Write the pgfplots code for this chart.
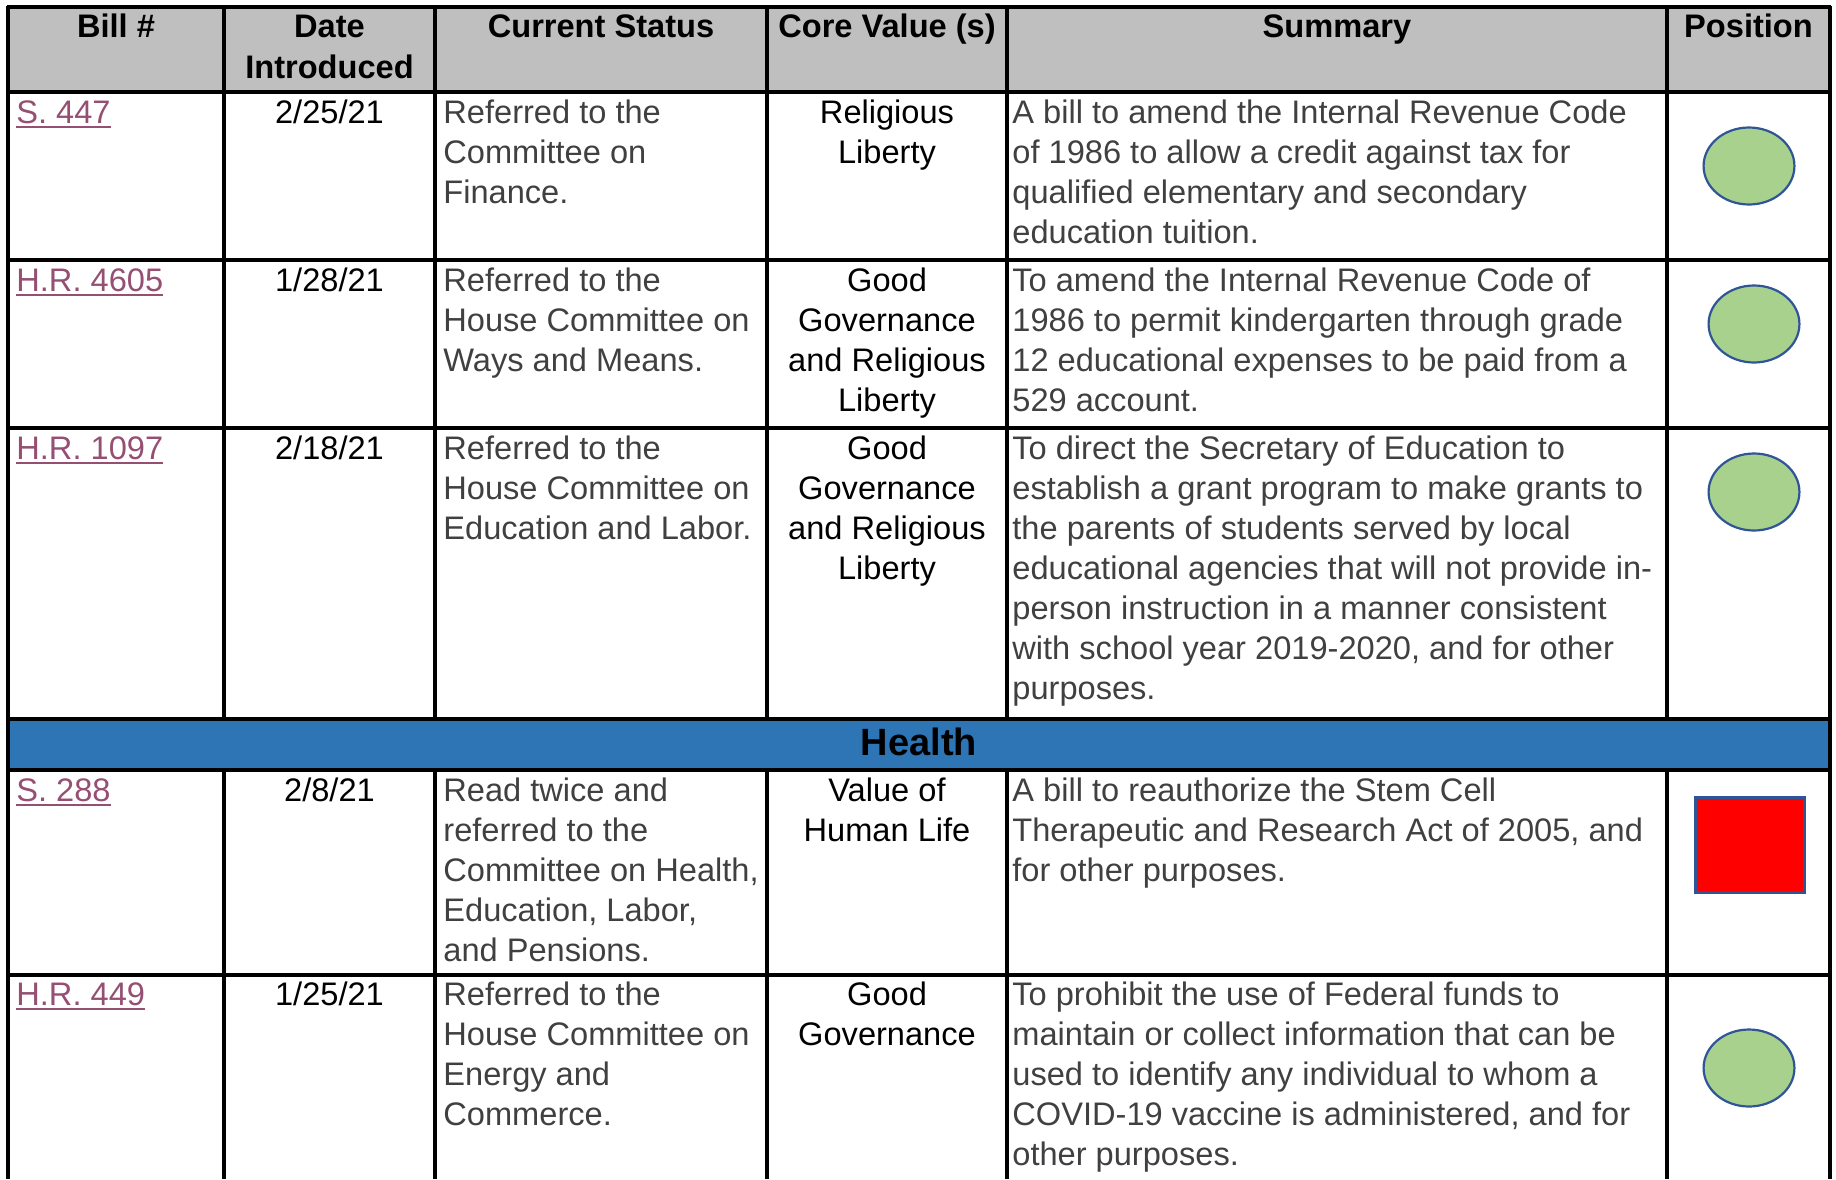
\documentclass[border=0pt]{standalone}
\usepackage{fontspec}
\setmainfont{Liberation Sans}
\usepackage{pgfplots}
\pgfplotsset{compat=1.18}
\definecolor{hdrgray}{HTML}{BFBFBF}
\definecolor{bandblue}{HTML}{2E75B6}
\definecolor{linkc}{HTML}{954F72}
\definecolor{bodyg}{HTML}{404040}
\definecolor{okgreen}{HTML}{A9D18E}
\definecolor{edgeblue}{HTML}{2F5597}
\newcommand\ul[1]{\setbox0\hbox{#1}\rlap{\rule[-2.6pt]{\wd0}{1.2pt}}\box0}
\newcommand\TL[3]{\node[anchor=base west,inner sep=0pt,text=bodyg] at (axis cs:#1,#2) {#3};}
\newcommand\TC[3]{\node[anchor=base,inner sep=0pt,text=black] at (axis cs:#1,#2) {#3};}
\newcommand\TB[3]{\node[anchor=base,inner sep=0pt,text=black,font=\fontsize{16.3}{20}\selectfont\bfseries] at (axis cs:#1,#2) {#3};}
\newcommand\LK[3]{\node[anchor=base west,inner sep=0pt,text=linkc] at (axis cs:#1,#2) {\ul{#3}};}
\begin{document}
\begin{tikzpicture}[font=\fontsize{16.3}{20}\selectfont]
\begin{axis}[
  name=tbl,
  scale only axis, width=918pt, height=589.5pt,
  xmin=0, xmax=1836, ymin=0, ymax=1179, y dir=reverse,
  hide axis, clip=true]
% backgrounds
\addplot[fill=hdrgray, draw=none] coordinates {(8,7) (1830,7) (1830,92) (8,92)} -- cycle;
\addplot[fill=bandblue, draw=none] coordinates {(8,719) (1830,719) (1830,770) (8,770)} -- cycle;
% horizontal lines
\addplot[black, line width=1.7pt] coordinates {(7,7) (1831,7)};
\addplot[black, line width=1.7pt] coordinates {(7,92) (1831,92)};
\addplot[black, line width=1.7pt] coordinates {(7,260) (1831,260)};
\addplot[black, line width=1.7pt] coordinates {(7,428) (1831,428)};
\addplot[black, line width=1.7pt] coordinates {(7,719) (1831,719)};
\addplot[black, line width=1.7pt] coordinates {(7,770) (1831,770)};
\addplot[black, line width=1.7pt] coordinates {(7,975) (1831,975)};
% outer verticals
\addplot[black, line width=1.7pt] coordinates {(8,6) (8,1179)};
\addplot[black, line width=1.7pt] coordinates {(1830,6) (1830,1179)};
% inner verticals
\addplot[black, line width=1.7pt] coordinates {(224,7) (224,719)};
\addplot[black, line width=1.7pt] coordinates {(435,7) (435,719)};
\addplot[black, line width=1.7pt] coordinates {(767,7) (767,719)};
\addplot[black, line width=1.7pt] coordinates {(1007,7) (1007,719)};
\addplot[black, line width=1.7pt] coordinates {(1667,7) (1667,719)};
\addplot[black, line width=1.7pt] coordinates {(224,770) (224,1179)};
\addplot[black, line width=1.7pt] coordinates {(435,770) (435,1179)};
\addplot[black, line width=1.7pt] coordinates {(767,770) (767,1179)};
\addplot[black, line width=1.7pt] coordinates {(1007,770) (1007,1179)};
\addplot[black, line width=1.7pt] coordinates {(1667,770) (1667,1179)};
% position marks
\addplot[only marks, mark=*, mark size=19.25pt, mark options={xscale=1.18, fill=okgreen, draw=edgeblue, line width=1.1pt}]
  coordinates {(1749,166) (1754,324) (1754,492) (1749,1068)};
\addplot[only marks, mark=square*, mark size=23.75pt, mark options={xscale=1.147, fill=red, draw=edgeblue, line width=1.1pt}]
  coordinates {(1750,845)};
% header
\TB{116}{37}{Bill \#}
\TB{329.5}{37}{Date}
\TB{329.5}{78}{Introduced}
\TB{601}{37}{Current Status}
\TB{887}{37}{Core Value (s)}
\TB{1337}{37}{Summary}
\TB{1748.5}{37}{Position}
% row 1
\LK{16}{123}{S. 447}
\TC{329.5}{123}{2/25/21}
\TL{443}{123}{Referred to the}
\TL{443}{163}{Committee on}
\TL{443}{203}{Finance.}
\TC{887}{123}{Religious}
\TC{887}{163}{Liberty}
\TL{1012}{123}{A bill to amend the Internal Revenue Code}
\TL{1012}{163}{of 1986 to allow a credit against tax for}
\TL{1012}{203}{qualified elementary and secondary}
\TL{1012}{243}{education tuition.}
% row 2
\LK{16}{291}{H.R. 4605}
\TC{329.5}{291}{1/28/21}
\TL{443}{291}{Referred to the}
\TL{443}{331}{House Committee on}
\TL{443}{371}{Ways and Means.}
\TC{887}{291}{Good}
\TC{887}{331}{Governance}
\TC{887}{371}{and Religious}
\TC{887}{411}{Liberty}
\TL{1012}{291}{To amend the Internal Revenue Code of}
\TL{1012}{331}{1986 to permit kindergarten through grade}
\TL{1012}{371}{12 educational expenses to be paid from a}
\TL{1012}{411}{529 account.}
% row 3
\LK{16}{459}{H.R. 1097}
\TC{329.5}{459}{2/18/21}
\TL{443}{459}{Referred to the}
\TL{443}{499}{House Committee on}
\TL{443}{539}{Education and Labor.}
\TC{887}{459}{Good}
\TC{887}{499}{Governance}
\TC{887}{539}{and Religious}
\TC{887}{579}{Liberty}
\TL{1012}{459}{To direct the Secretary of Education to}
\TL{1012}{499}{establish a grant program to make grants to}
\TL{1012}{539}{the parents of students served by local}
\TL{1012}{579}{educational agencies that will not provide in-}
\TL{1012}{619}{person instruction in a manner consistent}
\TL{1012}{659}{with school year 2019-2020, and for other}
\TL{1012}{699}{purposes.}
% band
\node[anchor=base,inner sep=0pt,text=black,font=\fontsize{19}{22}\selectfont\bfseries] at (axis cs:919,755) {Health};
% row 5
\LK{16}{801}{S. 288}
\TC{329.5}{801}{2/8/21}
\TL{443}{801}{Read twice and}
\TL{443}{841}{referred to the}
\TL{443}{881}{Committee on Health,}
\TL{443}{921}{Education, Labor,}
\TL{443}{961}{and Pensions.}
\TC{887}{801}{Value of}
\TC{887}{841}{Human Life}
\TL{1012}{801}{A bill to reauthorize the Stem Cell}
\TL{1012}{841}{Therapeutic and Research Act of 2005, and}
\TL{1012}{881}{for other purposes.}
% row 6
\LK{16}{1005}{H.R. 449}
\TC{329.5}{1005}{1/25/21}
\TL{443}{1005}{Referred to the}
\TL{443}{1045}{House Committee on}
\TL{443}{1085}{Energy and}
\TL{443}{1125}{Commerce.}
\TC{887}{1005}{Good}
\TC{887}{1045}{Governance}
\TL{1012}{1005}{To prohibit the use of Federal funds to}
\TL{1012}{1045}{maintain or collect information that can be}
\TL{1012}{1085}{used to identify any individual to whom a}
\TL{1012}{1125}{COVID-19 vaccine is administered, and for}
\TL{1012}{1165}{other purposes.}
\end{axis}
\path (tbl.south west) rectangle (tbl.north east);
\end{tikzpicture}
\end{document}
